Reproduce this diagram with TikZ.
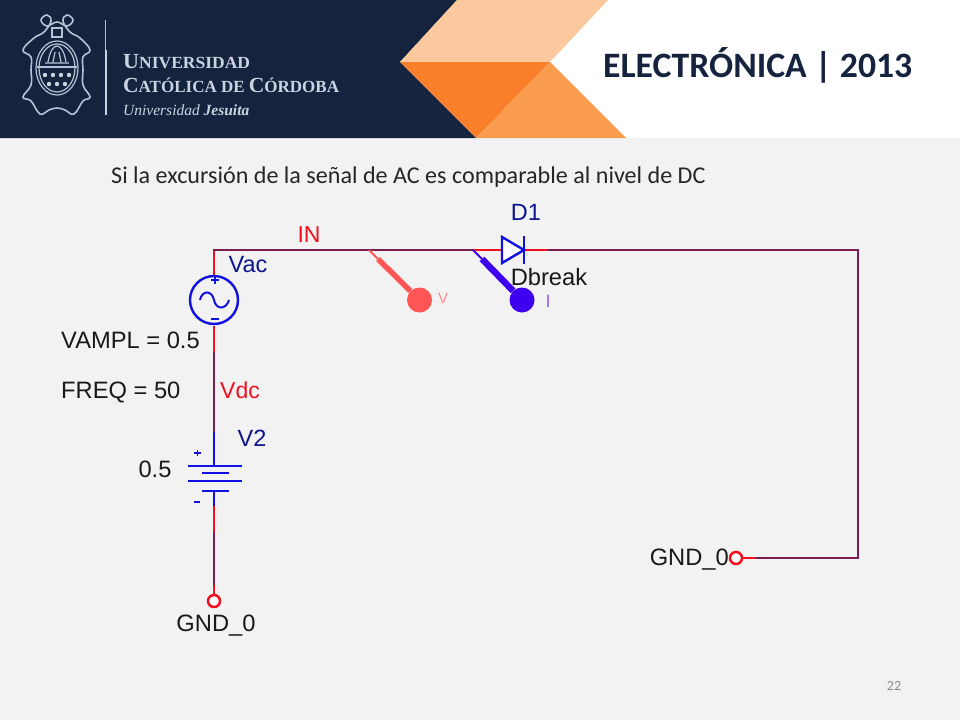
\documentclass[tikz,border=0pt]{standalone}
\usepackage{fontspec}
\setmainfont{Carlito}
\newfontfamily\arialf{Liberation Sans}
\newfontfamily\serifl{Liberation Serif}
\definecolor{navy}{HTML}{16233F}
\definecolor{slidebg}{HTML}{F2F2F2}
\definecolor{wirep}{HTML}{7A1E50}
\definecolor{wirer}{HTML}{F01020}
\definecolor{partb}{HTML}{1010E0}
\definecolor{crest}{HTML}{B4C2D4}
\definecolor{probev}{HTML}{FF5555}
\definecolor{probei}{HTML}{4000F0}
\definecolor{oa}{HTML}{FBC99D}
\definecolor{ob}{HTML}{F97F2A}
\definecolor{oc}{HTML}{FA9C50}
\tikzset{
  wire/.style={draw=wirep,line width=2.6pt},
  redwire/.style={draw=wirer,line width=2.6pt},
  part/.style={draw=partb,line width=2.4pt},
  lbl/.style={font=\arialf\fontsize{23.7}{26}\selectfont,text=black!90,inner sep=0pt},
  blbl/.style={font=\arialf\fontsize{23.5}{26}\selectfont,text=navy!60!blue,inner sep=0pt},
  rlbl/.style={font=\arialf\fontsize{23}{26}\selectfont,text=wirer,inner sep=0pt},
  logotxt/.style={text=crest!70!white,inner sep=0pt,anchor=west},
  crestline/.style={draw=crest,line width=1.2pt},
}
\newcommand{\capA}{\fontsize{21.5}{22}\selectfont}
\newcommand{\capB}{\fontsize{17}{18}\selectfont}
\begin{document}
\begin{tikzpicture}[x=1pt,y=-1pt]
\useasboundingbox (0,0) rectangle (960,720);
\fill[slidebg] (0,0) rectangle (960,720);
% header
\fill[white] (400,0) rectangle (960,138);
\fill[navy] (0,0) -- (457,0) -- (400,62) -- (476,138) -- (0,138) -- cycle;
\fill[oa] (400,62) -- (457,0) -- (608,0) -- (550,62) -- cycle;
\fill[ob] (400,62) -- (550,62) -- (476,138) -- cycle;
\fill[oc] (550,62) -- (626,138) -- (476,138) -- cycle;
% crest
\draw[crestline,line width=1.6pt] plot[smooth cycle,tension=.7] coordinates {(57,22) (47,26) (41,20) (47,15) (51,21) (44,32) (34,38) (23,50) (31,57) (31,70) (31,85) (23,97) (31,101) (40,114) (49,110) (57,108) (65,110) (74,114) (83,101) (90,97) (83,85) (83,70) (83,57) (90,50) (80,38) (70,32) (63,21) (67,15) (73,20) (67,26)};
\draw[crestline] (57,68) ellipse [x radius=21,y radius=27];
\draw[crestline] (57,68) ellipse [x radius=18,y radius=24];
\draw[crestline] (37,67) -- (77,67);
\draw[crestline] (52,28) rectangle (62,37);
\draw[crestline] (48,62) .. controls (50,50) and (54,46) .. (57,46) .. controls (60,46) and (64,50) .. (66,62);
\draw[crestline] (53,62) -- (55,52) (61,62) -- (59,52) (45,63) -- (69,63);
\foreach \px in {45,53,61,69}{\fill[crest!70!white] (\px,75) circle (2.2);}
\foreach \px in {49,57,65}{\fill[crest!70!white] (\px,84) circle (2.2);}
\draw[crest,line width=1pt] (105,20) -- (105,50);
\draw[crest!70!white,line width=2.4pt] (106,50) -- (106,115);
% logo text
\node[logotxt,xscale=1.03] (uni) at (123,62) {\serifl\bfseries\capA U\capB NIVERSIDAD};
\node[logotxt] (cat) at (123,85) {\serifl\bfseries\capA C\capB ATÓLICA DE \capA C\capB ÓRDOBA};
\node[logotxt] (jes) at (123,110) {\serifl\itshape\fontsize{15.5}{18}\selectfont Universidad \bfseries Jesuita};
% title
\node[inner sep=0pt,text=navy,font=\bfseries\fontsize{35.7}{38}\selectfont,anchor=west] (title) at (603,65) {ELECTRÓNICA | 2013};
% heading
\node[inner sep=0pt,anchor=west,text=black!85,font=\fontsize{24.1}{26}\selectfont] (head) at (111,177) {Si la excursión de la señal de AC es comparable al nivel de DC};
\node[inner sep=0pt,text=black!45,font=\fontsize{14}{16}\selectfont] (num) at (894,686) {22};
% circuit nodes
\node[circle,draw=partb,line width=2.4pt,minimum size=48pt,inner sep=0pt,fill=slidebg] (vac) at (214,300) {};
\coordinate (corner1) at (214,250);
\coordinate (corner2) at (858,250);
\coordinate (corner3) at (858,558);
\coordinate (w0) at (214,326);
\coordinate (w1) at (214,352);
\coordinate (w2) at (214,432);
\coordinate (bat) at (214,466);
\coordinate (batb) at (214,491);
\coordinate (w3) at (214,506);
\coordinate (w4) at (214,532);
\coordinate (w5) at (214,585);
\node[circle,draw=wirer,line width=2.5pt,minimum size=12pt,inner sep=0pt,fill=white] (gnd1) at (214,601) {};
\node[circle,draw=wirer,line width=2.5pt,minimum size=12pt,inner sep=0pt,fill=white] (gnd2) at (736,558) {};
\coordinate (d0) at (473,250);
\coordinate (da) at (502,250);
\coordinate (dc) at (524,250);
\coordinate (d1) at (548,250);
\coordinate (r2) at (756,558);
% wires
\draw[redwire] (vac.north) -- (corner1);
\draw[wire,line cap=rect] (corner1) -- (d0);
\draw[redwire] (d0) -- (da);
\draw[redwire] (dc) -- (d1);
\draw[wire,line join=miter] (d1) -- (corner2) -- (corner3) -- (r2);
\draw[redwire] (r2) -- (gnd2.east);
\draw[redwire] (w0) -- (w1);
\draw[wire] (w1) -- (w2);
\draw[part] (w2) -- (bat);
\draw[part] (batb) -- (w3);
\draw[redwire] (w3) -- (w4);
\draw[wire] (w4) -- (w5);
\draw[redwire] (w5) -- (gnd1.north);
% AC source marks
\draw[part,line width=2pt] (200,300) .. controls (202,290) and (212,290) .. (214,300) .. controls (216,310) and (226,310) .. (229,300);
\draw[part,line width=1.6pt] (211,280) -- (219,280) (215,276.5) -- (215,283.5);
\draw[part,line width=1.6pt] (211,319) -- (219,319);
% battery
\draw[part] (188,466) -- (242,466);
\draw[part] (202,473) -- (229,473);
\draw[part] (188,481) -- (242,481);
\draw[part] (202,491) -- (229,491);
\draw[part,line width=1.6pt] (194,453) -- (201,453) (197.5,450) -- (197.5,456);
\draw[part,line width=1.6pt] (194,502) -- (200,502);
% diode
\draw[part,fill=white] (502,237) -- (524,250) -- (502,263) -- cycle;
\draw[part] (524,236) -- (524,264);
% probes
\node[circle,fill=probev,minimum size=25pt,inner sep=0pt] (pv) at (419.5,300) {};
\coordinate (pvt) at (369,250);
\coordinate (pvm) at (378,259);
\draw[probev,line width=2pt] (pvt) -- (pvm);
\draw[probev,line width=5.5pt] (pvm) -- (pv);
\node[circle,fill=probei,minimum size=25pt,inner sep=0pt] (pib) at (522,300) {};
\coordinate (pit) at (473,250);
\coordinate (pim) at (482,259);
\draw[probei,line width=2pt] (pit) -- (pim);
\draw[probei,line width=6.5pt] (pim) -- (pib);
% labels
\node[rlbl] (lin) at (309,235) {IN};
\node[blbl] (lvac) at (248,265) {Vac};
\node[lbl,anchor=west] (vampl) at (61,340) {VAMPL = 0.5};
\node[lbl,anchor=west] (freq) at (61,392) {FREQ = 50};
\node[rlbl] (lvdc) at (240,390) {Vdc};
\node[blbl] (lv2) at (252,438) {V2};
\node[lbl] (l05) at (155,469) {0.5};
\node[lbl] (g1) at (216,626) {GND\_0};
\node[lbl,anchor=east] (g2) at (729,560) {GND\_0};
\node[blbl] (ld1) at (526,212) {D1};
\node[lbl] (dbr) at (549,277) {Dbreak};
\node[inner sep=0pt,text=probev!70!white,font=\arialf\fontsize{15}{16}\selectfont] (lv) at (443,298) {V};
\node[inner sep=0pt,text=probei!60!white,font=\arialf\fontsize{18}{20}\selectfont] (li) at (548,301) {I};
\end{tikzpicture}
\end{document}
